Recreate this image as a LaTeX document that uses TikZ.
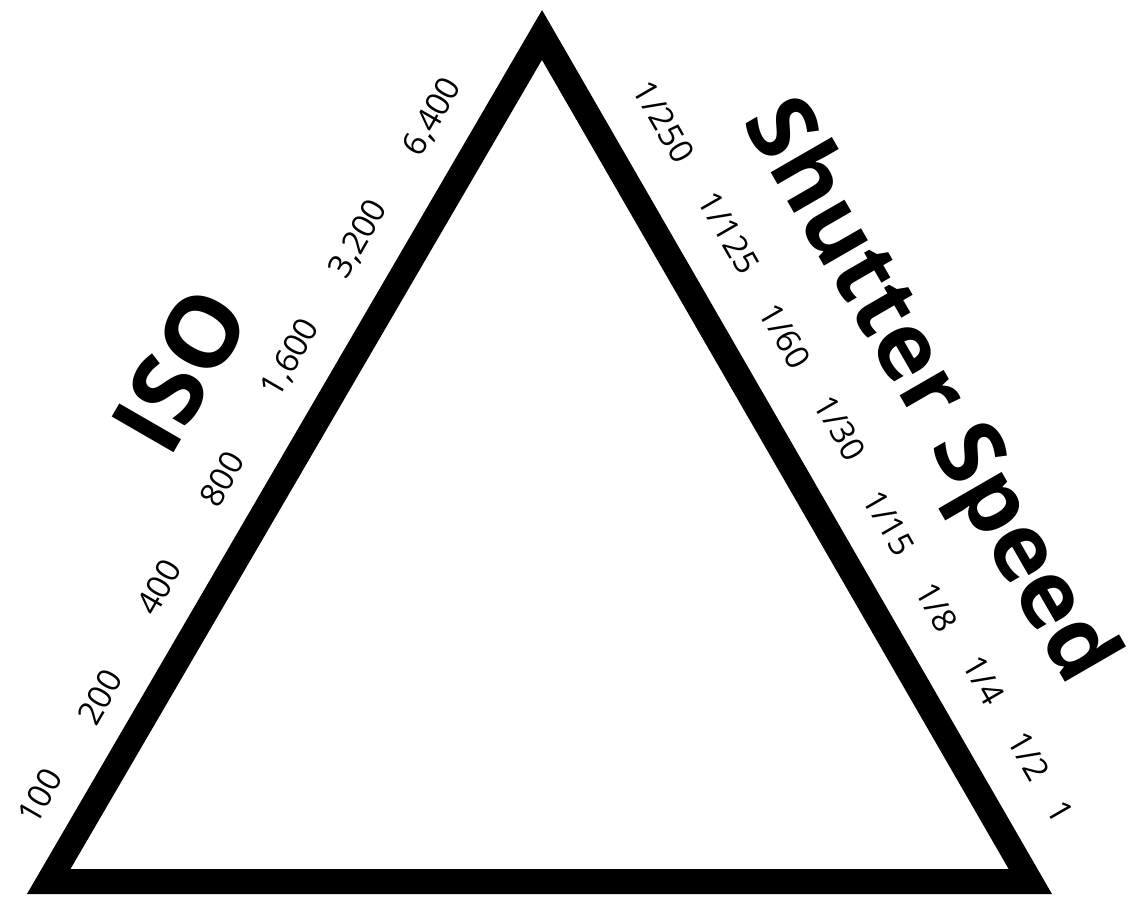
\documentclass[tikz,border=0pt]{standalone}
\usepackage{fontspec}
\setmainfont{Open Sans}
\usetikzlibrary{positioning}
\tikzset{
  side/.style={draw=black, line width=25pt, line join=miter, miter limit=10},
  stopval/.style={font=\fontsize{33}{40}\selectfont, text=black, inner sep=0pt},
  isoval/.style={stopval, rotate=60},
  shutval/.style={stopval, rotate=-60},
  heading/.style={font=\fontsize{93}{110}\selectfont\bfseries, text=black, inner sep=0pt},
}

\begin{document}
\begin{tikzpicture}[x=1pt, y=-1pt]
  \useasboundingbox[fill=white] (0,0) rectangle (1134,897);
  % corners of the triangle
  \coordinate (bl) at (48.7,881.5);
  \coordinate (top) at (542,35);
  \coordinate (br) at (1030.3,881.5);
  \draw[side] (bl) -- (top) -- (br) -- cycle;
  % ISO stops
  \foreach \n/\t/\px/\py in {a/100/40/796, b/200/100/697, c/400/159/587, d/800/222/479,
                             e/{1,600}/291/358, f/{3,200}/359/239, g/{6,400}/433/117}
    \node[isoval] (iso-\n) at (\px,\py) {\t};
  % shutter stops
  \foreach \n/\t/\px/\py in {a/1\slash250/664/122, b/1\slash125/729/233, c/1\slash60/785/336,
                             d/1\slash30/840/428, e/1\slash15/889/523, f/1\slash8/937/607,
                             g/1\slash4/984/680, h/1\slash2/1029/756, i/1/1060/812}
    \node[shutval] (shut-\n) at (\px,\py) {\t};
  \node[heading, font=\fontsize{100}{110}\selectfont\bfseries, rotate=60] (iso) at (180,370) {ISO};
  \node[heading, rotate=-60] (shutter) at (926,393) {Shutter Speed};
\end{tikzpicture}
\end{document}
